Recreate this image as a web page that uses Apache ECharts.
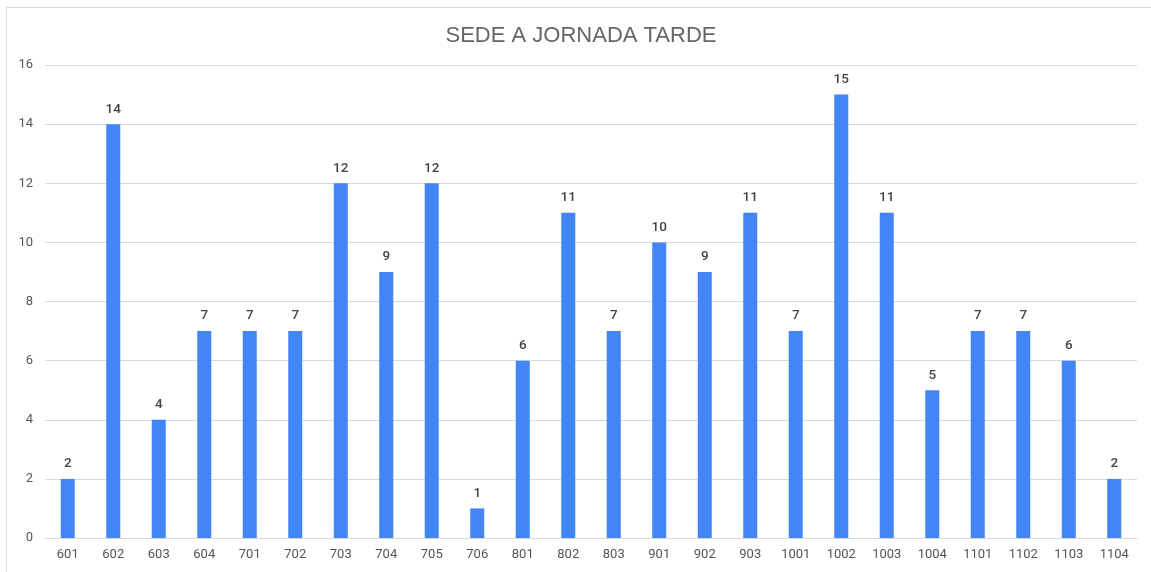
<!DOCTYPE html>
<html>
<head>
<meta charset="utf-8">
<script src="https://cdn.jsdelivr.net/npm/echarts@6/dist/echarts.min.js"></script>
<style>
  html, body { margin: 0; padding: 0; background: #fff; }
  #frame { position: absolute; left: 6px; top: 7px; width: 1145px; height: 565px;
           border-top: 1px solid #d9d9d9; border-left: 1px solid #d9d9d9; }
  #main { position: absolute; left: 0; top: 0; width: 1151px; height: 572px; }
</style>
</head>
<body>
<div id="frame"></div>
<div id="main"></div>
<script>
// grupos (eje x)
var grupos = ['601','602','603','604','701','702','703','704','705','706','801','802',
              '803','901','902','903','1001','1002','1003','1004','1101','1102','1103','1104'];
// valores por grupo
var valores = [2, 14, 4, 7, 7, 7, 12, 9, 12, 1, 6, 11, 7, 10, 9, 11, 7, 15, 11, 5, 7, 7, 6, 2];
var titulo = 'SEDE A JORNADA TARDE';

var chart = echarts.init(document.getElementById('main'));
var option = {
    animation: false,
    title: {
        text: titulo,
        left: 576,
        textAlign: 'center',
        top: 20,
        textStyle: { fontFamily: 'Liberation Sans, Arial', fontSize: 22, fontWeight: 'normal', color: '#666' }
    },
    grid: { left: 45, right: 14, top: 65, bottom: 34, containLabel: false },
    xAxis: {
        type: 'category',
        data: grupos,
        axisTick: { show: false },
        axisLine: { lineStyle: { color: '#d9d9d9' } },
        axisLabel: { color: '#555', fontSize: 13, fontFamily: 'Roboto', margin: 10 }
    },
    yAxis: {
        type: 'value',
        min: 0, max: 16, interval: 2,
        axisLine: { show: false },
        axisTick: { show: false },
        splitLine: { lineStyle: { color: '#d9d9d9' } },
        axisLabel: { color: '#555', fontSize: 13, fontFamily: 'Roboto', margin: 12 }
    },
    series: [{
        type: 'bar',
        data: valores,
        barWidth: 14,
        itemStyle: { color: '#4285F4' },
        label: {
            show: true, position: 'top', distance: 8,
            color: '#444', fontSize: 13.5, fontWeight: 500, fontFamily: 'Roboto'
        }
    }]
};
chart.setOption(option);
</script>
</body>
</html>
